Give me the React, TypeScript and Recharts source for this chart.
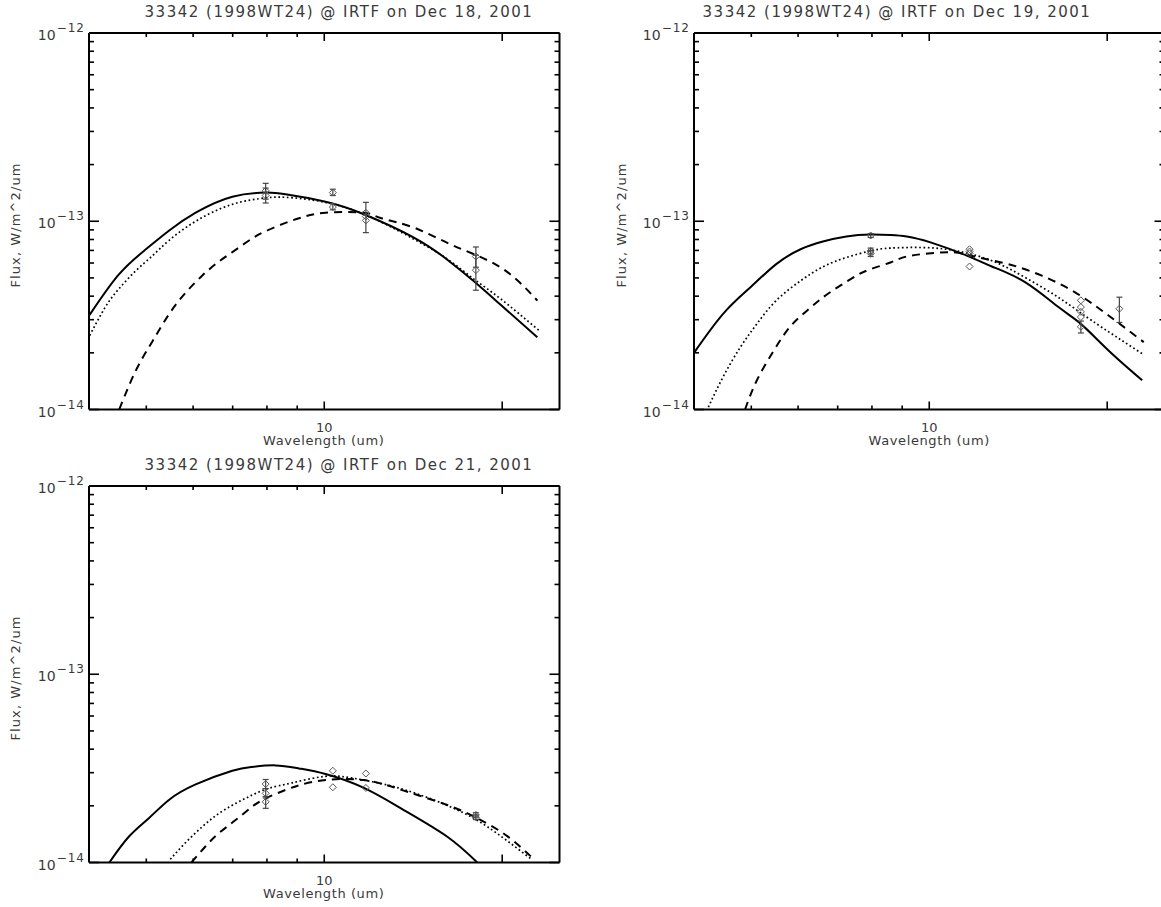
import React from 'react'
import { ComposedChart, Line, Scatter, XAxis, YAxis, ErrorBar } from 'recharts'

// axis ticks: wavelength in um, flux in W/m^2/um
const wlTicks = [5, 6, 7, 8, 9, 10, 20]
const wlMajor = [10, 20]
const wlLabelled = [10]
const fluxTicks = [
  1e-14, 2e-14, 3e-14, 4e-14, 5e-14, 6e-14, 7e-14, 8e-14, 9e-14,
  1e-13, 2e-13, 3e-13, 4e-13, 5e-13, 6e-13, 7e-13, 8e-13, 9e-13, 1e-12,
]
const fluxDecades = [1e-14, 1e-13, 1e-12]

// Dec 18 models
const dec18Solid = [
  { wl: 4.01, f: 3.18e-14 }, { wl: 4.49, f: 5.2e-14 }, { wl: 4.98, f: 7.05e-14 }, { wl: 5.46, f: 8.9e-14 },
  { wl: 6.06, f: 1.11e-13 }, { wl: 6.99, f: 1.35e-13 }, { wl: 7.96, f: 1.42e-13 }, { wl: 8.6, f: 1.39e-13 },
  { wl: 10.05, f: 1.27e-13 }, { wl: 11.67, f: 1.09e-13 }, { wl: 14.18, f: 8.19e-14 }, { wl: 16.15, f: 6.25e-14 },
  { wl: 17.91, f: 4.8e-14 }, { wl: 19.88, f: 3.6e-14 }, { wl: 22.93, f: 2.42e-14 },
]
const dec18Dotted = [
  { wl: 4.01, f: 2.47e-14 }, { wl: 4.26, f: 3.49e-14 }, { wl: 4.49, f: 4.36e-14 }, { wl: 4.8, f: 5.46e-14 },
  { wl: 5.12, f: 6.55e-14 }, { wl: 5.46, f: 7.9e-14 }, { wl: 6.06, f: 1.0e-13 }, { wl: 6.99, f: 1.23e-13 },
  { wl: 7.96, f: 1.33e-13 }, { wl: 8.6, f: 1.34e-13 }, { wl: 9.79, f: 1.28e-13 }, { wl: 11.67, f: 1.09e-13 },
  { wl: 14.18, f: 8.03e-14 }, { wl: 16.15, f: 6.3e-14 }, { wl: 17.91, f: 4.93e-14 }, { wl: 19.88, f: 3.87e-14 },
  { wl: 23.08, f: 2.63e-14 },
]
const dec18Dashed = [
  { wl: 4.5, f: 1.0e-14 }, { wl: 4.8, f: 1.61e-14 }, { wl: 5.12, f: 2.3e-14 }, { wl: 5.46, f: 3.2e-14 },
  { wl: 5.82, f: 4.15e-14 }, { wl: 6.22, f: 5.15e-14 }, { wl: 6.63, f: 6.1e-14 }, { wl: 7.08, f: 7.05e-14 },
  { wl: 7.55, f: 8.1e-14 }, { wl: 7.96, f: 8.85e-14 }, { wl: 8.6, f: 9.8e-14 }, { wl: 9.18, f: 1.05e-13 },
  { wl: 10.05, f: 1.11e-13 }, { wl: 11.67, f: 1.11e-13 }, { wl: 12.45, f: 1.04e-13 }, { wl: 14.18, f: 9.25e-14 },
  { wl: 16.57, f: 7.4e-14 }, { wl: 19.88, f: 5.68e-14 }, { wl: 22.93, f: 3.79e-14 },
]
// Dec 18 measurements (lo/hi = error bar ends)
const dec18Obs = [
  { wl: 7.96, f: 1.45e-13, lo: 1.31e-13, hi: 1.59e-13 },
  { wl: 7.96, f: 1.37e-13, lo: 1.25e-13, hi: 1.5e-13 },
  { wl: 10.34, f: 1.42e-13, lo: 1.37e-13, hi: 1.48e-13 },
  { wl: 10.34, f: 1.19e-13, lo: 1.15e-13, hi: 1.24e-13 },
  { wl: 11.76, f: 1.11e-13 },
  { wl: 11.76, f: 1.06e-13, lo: 8.7e-14, hi: 1.26e-13 },
  { wl: 11.76, f: 1.01e-13 },
  { wl: 18.05, f: 6.5e-14, lo: 5.7e-14, hi: 7.3e-14 },
  { wl: 18.05, f: 5.5e-14, lo: 4.3e-14, hi: 6.6e-14 },
]

// Dec 19 models
const dec19Solid = [
  { wl: 4.0, f: 2.0e-14 }, { wl: 4.48, f: 3.22e-14 }, { wl: 4.98, f: 4.45e-14 }, { wl: 5.51, f: 5.92e-14 },
  { wl: 6.06, f: 7.1e-14 }, { wl: 6.61, f: 7.8e-14 }, { wl: 7.24, f: 8.3e-14 }, { wl: 7.96, f: 8.5e-14 },
  { wl: 8.6, f: 8.45e-14 }, { wl: 9.16, f: 8.3e-14 }, { wl: 10.08, f: 7.7e-14 }, { wl: 11.6, f: 6.55e-14 },
  { wl: 12.76, f: 5.75e-14 }, { wl: 14.52, f: 4.75e-14 }, { wl: 16.54, f: 3.5e-14 }, { wl: 18.05, f: 2.85e-14 },
  { wl: 20.1, f: 2.06e-14 }, { wl: 22.92, f: 1.43e-14 },
]
const dec19Dotted = [
  { wl: 4.23, f: 1.03e-14 }, { wl: 4.48, f: 1.49e-14 }, { wl: 4.79, f: 2.14e-14 }, { wl: 5.11, f: 2.85e-14 },
  { wl: 5.51, f: 3.79e-14 }, { wl: 6.06, f: 4.83e-14 }, { wl: 6.61, f: 5.73e-14 }, { wl: 7.24, f: 6.42e-14 },
  { wl: 7.96, f: 6.97e-14 }, { wl: 8.6, f: 7.2e-14 }, { wl: 9.76, f: 7.25e-14 }, { wl: 11.1, f: 6.97e-14 },
  { wl: 12.76, f: 6.17e-14 }, { wl: 14.52, f: 5.03e-14 }, { wl: 16.54, f: 3.94e-14 }, { wl: 18.83, f: 2.97e-14 },
  { wl: 22.92, f: 1.98e-14 },
]
const dec19Dashed = [
  { wl: 4.88, f: 1.0e-14 }, { wl: 5.11, f: 1.43e-14 }, { wl: 5.46, f: 2.06e-14 }, { wl: 5.81, f: 2.74e-14 },
  { wl: 6.21, f: 3.35e-14 }, { wl: 6.61, f: 3.94e-14 }, { wl: 7.07, f: 4.55e-14 }, { wl: 7.53, f: 5.14e-14 },
  { wl: 7.96, f: 5.57e-14 }, { wl: 8.6, f: 6.04e-14 }, { wl: 9.16, f: 6.5e-14 }, { wl: 10.08, f: 6.76e-14 },
  { wl: 11.1, f: 6.82e-14 }, { wl: 12.11, f: 6.42e-14 }, { wl: 13.61, f: 5.92e-14 }, { wl: 15.5, f: 5.14e-14 },
  { wl: 17.65, f: 4.19e-14 }, { wl: 20.1, f: 3.16e-14 }, { wl: 23.06, f: 2.28e-14 },
]
const dec19Obs = [
  { wl: 7.96, f: 8.4e-14, lo: 8.2e-14, hi: 8.6e-14 },
  { wl: 7.96, f: 6.95e-14, lo: 6.7e-14, hi: 7.2e-14 },
  { wl: 7.96, f: 6.75e-14, lo: 6.5e-14, hi: 7.0e-14 },
  { wl: 11.7, f: 7.1e-14 },
  { wl: 11.7, f: 6.9e-14 },
  { wl: 11.7, f: 6.75e-14 },
  { wl: 11.7, f: 5.75e-14 },
  { wl: 18.05, f: 3.8e-14 },
  { wl: 18.05, f: 3.5e-14 },
  { wl: 18.05, f: 3.3e-14 },
  { wl: 18.05, f: 3.1e-14 },
  { wl: 18.05, f: 2.75e-14, lo: 2.55e-14, hi: 2.95e-14 },
  { wl: 20.97, f: 3.43e-14, lo: 2.9e-14, hi: 3.95e-14 },
]

// Dec 21 models
const dec21Solid = [
  { wl: 4.33, f: 1.0e-14 }, { wl: 4.67, f: 1.37e-14 }, { wl: 5.05, f: 1.72e-14 }, { wl: 5.46, f: 2.15e-14 },
  { wl: 6.06, f: 2.6e-14 }, { wl: 6.99, f: 3.07e-14 }, { wl: 7.55, f: 3.22e-14 }, { wl: 8.27, f: 3.28e-14 },
  { wl: 9.06, f: 3.16e-14 }, { wl: 10.05, f: 2.95e-14 }, { wl: 11.67, f: 2.49e-14 }, { wl: 13.63, f: 1.9e-14 },
  { wl: 16.15, f: 1.37e-14 }, { wl: 18.15, f: 1.0e-14 },
]
const dec21Dotted = [
  { wl: 5.49, f: 1.04e-14 }, { wl: 5.82, f: 1.27e-14 }, { wl: 6.22, f: 1.55e-14 }, { wl: 6.63, f: 1.82e-14 },
  { wl: 7.08, f: 2.06e-14 }, { wl: 7.55, f: 2.28e-14 }, { wl: 8.06, f: 2.48e-14 }, { wl: 8.83, f: 2.65e-14 },
  { wl: 10.05, f: 2.87e-14 }, { wl: 11.22, f: 2.8e-14 }, { wl: 12.79, f: 2.58e-14 }, { wl: 14.56, f: 2.28e-14 },
  { wl: 16.57, f: 1.94e-14 }, { wl: 18.87, f: 1.55e-14 }, { wl: 22.33, f: 1.05e-14 },
]
const dec21Dashed = [
  { wl: 5.96, f: 1.0e-14 }, { wl: 6.3, f: 1.22e-14 }, { wl: 6.63, f: 1.43e-14 }, { wl: 7.08, f: 1.68e-14 },
  { wl: 7.55, f: 1.98e-14 }, { wl: 7.96, f: 2.19e-14 }, { wl: 8.6, f: 2.43e-14 }, { wl: 9.18, f: 2.6e-14 },
  { wl: 10.05, f: 2.74e-14 }, { wl: 11.67, f: 2.74e-14 }, { wl: 13.63, f: 2.41e-14 }, { wl: 16.15, f: 2.02e-14 },
  { wl: 18.15, f: 1.72e-14 }, { wl: 20.4, f: 1.38e-14 }, { wl: 22.7, f: 1.03e-14 },
]
const dec21Obs = [
  { wl: 7.96, f: 2.61e-14, lo: 2.47e-14, hi: 2.76e-14 },
  { wl: 7.96, f: 2.33e-14, lo: 2.2e-14, hi: 2.47e-14 },
  { wl: 7.96, f: 2.1e-14, lo: 1.94e-14, hi: 2.24e-14 },
  { wl: 10.34, f: 3.07e-14 },
  { wl: 10.34, f: 2.51e-14 },
  { wl: 11.76, f: 2.97e-14 },
  { wl: 11.76, f: 2.49e-14 },
  { wl: 18.05, f: 1.79e-14, lo: 1.74e-14, hi: 1.84e-14 },
  { wl: 18.05, f: 1.74e-14, lo: 1.69e-14, hi: 1.79e-14 },
]

const PLOT_W = 470.5
const PLOT_H = 376.5
const PAD_L = 80
const PAD_T = 40
const PAD_R = 20
const PAD_B = 60
const INK = '#3a3a3a'
const FONT = '"DejaVu Sans", sans-serif'

type Obs = { wl: number; f: number; lo?: number; hi?: number }

function withErrors(obs: Obs[]) {
  return obs.map((o) => ({
    wl: o.wl,
    f: o.f,
    err: o.lo != null && o.hi != null ? [o.f - o.lo, o.hi - o.f] : undefined,
  }))
}

function WlTick(props: any) {
  const { x, y, payload, side } = props
  const len = wlMajor.includes(payload.value) ? 8 : 4
  const dir = side === 'top' ? 1 : -1
  return (
    <g>
      <line x1={x} y1={y} x2={x} y2={y + dir * len} stroke="#000" strokeWidth={1.6} />
      {side === 'bottom' && wlLabelled.includes(payload.value) && (
        <text x={x} y={y + 22} textAnchor="middle" fontSize={13} fill={INK} fontFamily={FONT}>
          {payload.value}
        </text>
      )}
    </g>
  )
}

function FluxTick(props: any) {
  const { x, y, payload, side } = props
  const decade = fluxDecades.includes(payload.value)
  const len = decade ? 10 : 5
  const dir = side === 'right' ? -1 : 1
  const exp = Math.round(Math.log10(payload.value))
  return (
    <g>
      <line x1={x} y1={y} x2={x + dir * len} y2={y} stroke="#000" strokeWidth={1.6} />
      {side === 'left' && decade && (
        <text x={x - 4} y={y + 7} textAnchor="end" fill={INK} fontFamily={FONT}>
          <tspan fontSize={14}>10</tspan>
          <tspan fontSize={12} dy={-8} dx={1} letterSpacing={1}>{'\u2212' + Math.abs(exp)}</tspan>
        </text>
      )}
    </g>
  )
}

function Diamond(props: any) {
  const { cx, cy } = props
  const r = 3.5
  return (
    <path
      d={`M${cx},${cy - r} L${cx + r},${cy} L${cx},${cy + r} L${cx - r},${cy} Z`}
      fill="none"
      stroke="#555"
      strokeWidth={1}
    />
  )
}

type Pt = { wl: number; f: number }
type PanelProps = {
  left: number
  top: number
  title: string
  titleX: number
  solid: Pt[]
  dotted: Pt[]
  dashed: Pt[]
  obs: Obs[]
  yTitleX: number
  rightEdge?: boolean
}

function Panel({ left, top, title, titleX, solid, dotted, dashed, obs, yTitleX, rightEdge = true }: PanelProps) {
  const axisLine = { stroke: '#000', strokeWidth: 2 }
  const centerX = left + PLOT_W / 2
  return (
    <>
      <div
        style={{
          position: 'absolute', left: titleX, top: top - 29, transform: 'translateX(-50%)',
          whiteSpace: 'nowrap', fontFamily: FONT, fontSize: 15, letterSpacing: 1.5, color: INK, lineHeight: '16px',
        }}
      >
        {title}
      </div>
      <div
        style={{
          position: 'absolute', left: centerX, top: top + PLOT_H + 24, transform: 'translateX(-50%)',
          whiteSpace: 'nowrap', fontFamily: FONT, fontSize: 13, letterSpacing: 0.6, color: INK, lineHeight: '14px',
        }}
      >
        Wavelength (um)
      </div>
      <div
        style={{
          position: 'absolute', left: yTitleX, top: top + PLOT_H / 2 + 4,
          transform: 'translate(-50%, -50%) rotate(-90deg)',
          whiteSpace: 'nowrap', fontFamily: FONT, fontSize: 13, letterSpacing: 1.1, color: INK, lineHeight: '14px',
        }}
      >
        Flux, W/m^2/um
      </div>
      <div style={{ position: 'absolute', left: left - PAD_L, top: top - PAD_T }}>
        <ComposedChart
          width={PAD_L + PLOT_W + PAD_R}
          height={PAD_T + PLOT_H + PAD_B}
          margin={{ top: PAD_T - 1, right: PAD_R - 1, bottom: 0, left: 0 }}
        >
          <XAxis
            xAxisId={0} dataKey="wl" type="number" scale="log" domain={[4, 25]} allowDataOverflow
            ticks={wlTicks} interval={0} height={PAD_B} tickSize={0} tickMargin={0} tickLine={false}
            axisLine={axisLine} tick={(p: any) => <WlTick {...p} side="bottom" />}
          />
          <XAxis
            xAxisId="top" orientation="top" dataKey="wl" type="number" scale="log" domain={[4, 25]}
            allowDataOverflow ticks={wlTicks} interval={0} height={1} tickSize={0} tickMargin={0}
            tickLine={false} axisLine={axisLine} tick={(p: any) => <WlTick {...p} side="top" />}
          />
          <YAxis
            yAxisId={0} dataKey="f" type="number" scale="log" domain={[1e-14, 1e-12]} allowDataOverflow
            ticks={fluxTicks} interval={0} width={PAD_L} tickSize={0} tickMargin={0} tickLine={false}
            axisLine={axisLine} tick={(p: any) => <FluxTick {...p} side="left" />}
          />
          <YAxis
            yAxisId="right" orientation="right" dataKey="f" type="number" scale="log"
            domain={[1e-14, 1e-12]} allowDataOverflow ticks={fluxTicks} interval={0} width={1}
            tickSize={0} tickMargin={0} tickLine={false} axisLine={rightEdge ? axisLine : false}
            tick={(p: any) => <FluxTick {...p} side="right" />}
          />
          <Line
            data={solid} dataKey="f" type="natural" stroke="#000" strokeWidth={2}
            dot={false} isAnimationActive={false}
          />
          <Line
            data={dotted} dataKey="f" type="natural" stroke="#000" strokeWidth={1.7}
            strokeDasharray="1.7 2.6" dot={false} isAnimationActive={false}
          />
          <Line
            data={dashed} dataKey="f" type="natural" stroke="#000" strokeWidth={2}
            strokeDasharray="8 6" dot={false} isAnimationActive={false}
          />
          <Scatter data={withErrors(obs)} dataKey="f" shape={Diamond} isAnimationActive={false}>
            <ErrorBar dataKey="err" direction="y" width={3} stroke="#444" strokeWidth={1.2} />
          </Scatter>
        </ComposedChart>
      </div>
    </>
  )
}

export default function App() {
  return (
    <div
      style={{
        position: 'absolute', left: 0, top: 0, width: 1161, height: 907,
        overflow: 'hidden', background: '#fff',
      }}
    >
      <Panel
        left={88.5} top={33} title="33342 (1998WT24) @ IRTF on Dec 18, 2001" titleX={339}
        solid={dec18Solid} dotted={dec18Dotted} dashed={dec18Dashed} obs={dec18Obs} yTitleX={16}
      />
      <Panel
        left={694} top={33} title="33342 (1998WT24) @ IRTF on Dec 19, 2001" titleX={897}
        solid={dec19Solid} dotted={dec19Dotted} dashed={dec19Dashed} obs={dec19Obs} yTitleX={622}
        rightEdge={false}
      />
      <Panel
        left={88.5} top={486} title="33342 (1998WT24) @ IRTF on Dec 21, 2001" titleX={339}
        solid={dec21Solid} dotted={dec21Dotted} dashed={dec21Dashed} obs={dec21Obs} yTitleX={16}
      />
    </div>
  )
}
